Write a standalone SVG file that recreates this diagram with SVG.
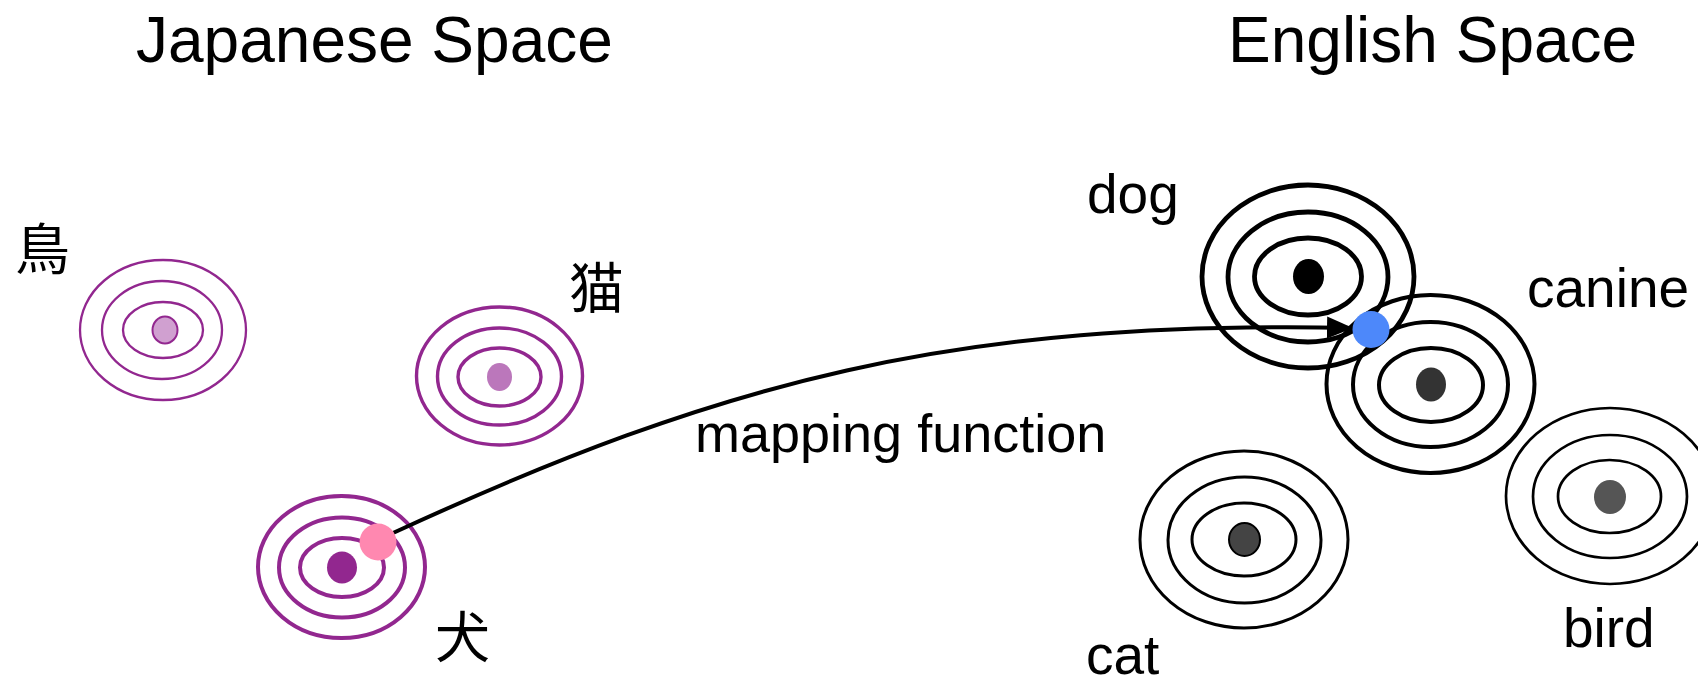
<svg xmlns="http://www.w3.org/2000/svg" width="1698" height="686" viewBox="0 0 1698 686">
<style>
  .title { font-family: "Liberation Sans", Arial, sans-serif; font-size: 64px; fill: #000; }
  .lbl { font-family: "Liberation Sans", Arial, sans-serif; font-size: 55px; fill: #000; }
  .jp { font-family: "Noto Sans CJK JP", "Noto Sans CJK SC", sans-serif; font-size: 55px; fill: #000; }
  .pr { fill: none; stroke: #92278f; }
  .bk { fill: none; stroke: #000; }
</style>
<defs>
  <marker id="arrow" markerUnits="userSpaceOnUse" markerWidth="26" markerHeight="22" viewBox="0 0 26 22" refX="26" refY="11" orient="auto">
    <path d="M0,0 L26,11 L0,22 Z" fill="#000"/>
  </marker>
</defs>
<rect width="1698" height="686" fill="#fff"/>

<text class="title" x="136" y="62">Japanese Space</text>
<text class="title" x="1228" y="62">English Space</text>

<g id="tori">
  <ellipse class="pr" stroke-width="2.3" cx="163" cy="330" rx="83" ry="70"/>
  <ellipse class="pr" stroke-width="2.3" cx="162" cy="330" rx="60" ry="49"/>
  <ellipse class="pr" stroke-width="2.3" cx="163" cy="330" rx="40" ry="28"/>
  <ellipse cx="165" cy="330" rx="12.5" ry="13.5" fill="#d0a0d0" stroke="#92278f" stroke-width="2"/>
  <text class="jp" x="15" y="269">鳥</text>
</g>

<g id="neko">
  <ellipse class="pr" stroke-width="3.4" cx="499.5" cy="376" rx="83" ry="69"/>
  <ellipse class="pr" stroke-width="3.4" cx="499.5" cy="376.5" rx="62" ry="48.5"/>
  <ellipse class="pr" stroke-width="3.4" cx="499.5" cy="377" rx="41.5" ry="29"/>
  <ellipse cx="499.5" cy="377" rx="12.5" ry="14" fill="#bb77bb"/>
  <text class="jp" x="569" y="308">猫</text>
</g>

<g id="inu">
  <ellipse class="pr" stroke-width="4" cx="341.5" cy="567" rx="83.5" ry="71"/>
  <ellipse class="pr" stroke-width="4" cx="342" cy="567.5" rx="63" ry="50"/>
  <ellipse class="pr" stroke-width="4" cx="342" cy="567.5" rx="42" ry="29.5"/>
  <ellipse cx="342" cy="567.5" rx="15" ry="16" fill="#92278f"/>
  <text class="jp" x="435" y="657">犬</text>
</g>

<g id="dog">
  <ellipse class="bk" stroke-width="4.8" cx="1308" cy="276.5" rx="106" ry="91.5"/>
  <ellipse class="bk" stroke-width="4.8" cx="1308" cy="277" rx="80" ry="65"/>
  <ellipse class="bk" stroke-width="4.8" cx="1308" cy="276.5" rx="53.5" ry="38.5"/>
  <ellipse cx="1308.5" cy="276.5" rx="15.5" ry="17.5" fill="#000"/>
  <text class="lbl" x="1087" y="213">dog</text>
</g>

<g id="canine">
  <ellipse class="bk" stroke-width="4" cx="1430.5" cy="384" rx="104" ry="89"/>
  <ellipse class="bk" stroke-width="4" cx="1430.5" cy="384.5" rx="77.5" ry="62.5"/>
  <ellipse class="bk" stroke-width="4" cx="1431" cy="385" rx="52" ry="37"/>
  <ellipse cx="1431" cy="384.5" rx="15" ry="17" fill="#333"/>
  <text class="lbl" x="1527" y="307">canine</text>
</g>

<g id="cat">
  <ellipse class="bk" stroke-width="3" cx="1244" cy="539.5" rx="104" ry="88.5"/>
  <ellipse class="bk" stroke-width="3" cx="1244.5" cy="540" rx="76.5" ry="63"/>
  <ellipse class="bk" stroke-width="3" cx="1244" cy="539.5" rx="52" ry="36.5"/>
  <ellipse cx="1244.5" cy="539.5" rx="15.5" ry="16.5" fill="#444" stroke="#000" stroke-width="2"/>
  <text class="lbl" x="1086" y="674">cat</text>
</g>

<g id="bird">
  <ellipse class="bk" stroke-width="2.7" cx="1610" cy="496" rx="104" ry="88"/>
  <ellipse class="bk" stroke-width="2.7" cx="1610" cy="496.5" rx="77" ry="61.5"/>
  <ellipse class="bk" stroke-width="2.7" cx="1609.5" cy="496.5" rx="51.5" ry="36.5"/>
  <ellipse cx="1610" cy="497" rx="16" ry="17" fill="#555"/>
  <text class="lbl" x="1563" y="647">bird</text>
</g>

<g id="connectors">
  <path d="M393,533 C723,381 953,320 1353,328" fill="none" stroke="#000" stroke-width="4" marker-end="url(#arrow)"/>
  <text class="lbl" x="695" y="452" style="font-size:54px">mapping function</text>
</g>

<g id="source-point">
  <circle cx="378" cy="542" r="18.5" fill="#ff88b0"/>
</g>
<g id="target-point">
  <circle cx="1371" cy="329.5" r="18.5" fill="#4d88fa"/>
</g>
</svg>
